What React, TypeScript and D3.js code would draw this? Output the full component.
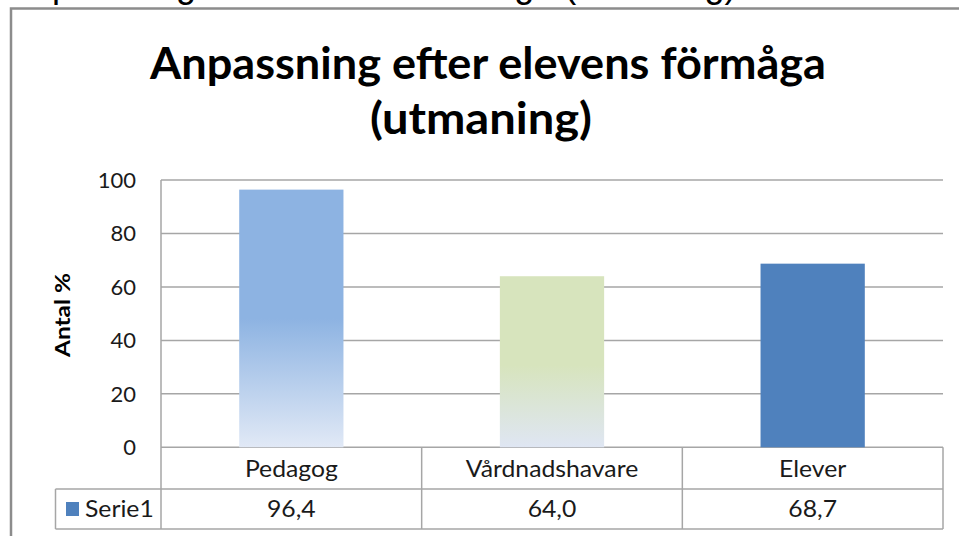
import React from "react";
import * as d3 from "d3";

const categories = ["Pedagog", "Vårdnadshavare", "Elever"];
const values = [96.4, 64.0, 68.7];
const valueLabels = ["96,4", "64,0", "68,7"];
const yTicks = [0, 20, 40, 60, 80, 100];
const seriesName = "Serie1";
const titleLines = ["Anpassning efter elevens förmåga", "(utmaning)"];
const caption = "Anpassning efter elevens förmåga (utmaning)";
const yAxisTitle = "Antal %";

const W = 959;
const H = 536;
const plotLeft = 161;
const plotRight = 943;
const plotTop = 180;
const plotBottom = 447.3;
const row1Bottom = 489;
const row2Bottom = 529;
const legendLeft = 55.5;
const font = "Lato, 'Open Sans', sans-serif";
const gridColor = "#a6a6a6";
const tableFont = 22.5;
const tableStretch = 1.1;

const fills = ["url(#gPed)", "url(#gVard)", "#4F81BD"];

export default function App() {
  const y = d3.scaleLinear().domain([0, 100]).range([plotBottom, plotTop]);
  const x = d3.scaleBand<string>().domain(categories).range([plotLeft, plotRight]).padding(0);
  const bw = x.bandwidth() * 0.4;
  const colEdges = [plotLeft, ...categories.map((c) => (x(c) as number) + x.bandwidth())];
  const cx = (c: string) => (x(c) as number) + x.bandwidth() / 2;

  return (
    <svg
      width={W}
      height={H}
      viewBox={`0 0 ${W} ${H}`}
      style={{ position: "absolute", left: 0, top: 0, background: "#fff" }}
    >
      <defs>
        <linearGradient id="gPed" x1="0" y1="0" x2="0" y2="1">
          <stop offset="0" stopColor="#8DB3E2" />
          <stop offset="0.5" stopColor="#8DB3E2" />
          <stop offset="1" stopColor="#E1E9F6" />
        </linearGradient>
        <linearGradient id="gVard" x1="0" y1="0" x2="0" y2="1">
          <stop offset="0" stopColor="#D7E4BD" />
          <stop offset="0.52" stopColor="#D7E4BD" />
          <stop offset="1" stopColor="#DFE6F3" />
        </linearGradient>
      </defs>
      <rect x={0} y={0} width={W} height={H} fill="#fff" />

      {/* cut-off caption at top */}
      <text x={8} y={-3.5} fontFamily="'Liberation Sans', Arial, sans-serif" fontSize={36} fill="#000">
        {caption}
      </text>

      {/* outer frame */}
      <path d={`M11,${H + 5} L11,8.5 L${W + 5},8.5`} fill="none" stroke="#8c8c8c" strokeWidth={2.5} />

      {/* title */}
      <text x={488} y={79} textAnchor="middle" fontFamily={font} fontWeight={700} fontSize={44} fill="#000"
        textLength={676} lengthAdjust="spacingAndGlyphs">
        {titleLines[0]}
      </text>
      <text x={481} y={134} textAnchor="middle" fontFamily={font} fontWeight={700} fontSize={44} fill="#000"
        textLength={222} lengthAdjust="spacingAndGlyphs">
        {titleLines[1]}
      </text>

      {/* gridlines */}
      {yTicks.map((t) => (
        <line key={t} x1={plotLeft} x2={plotRight} y1={y(t)} y2={y(t)} stroke={gridColor} strokeWidth={1.5} />
      ))}

      {/* y tick labels */}
      {yTicks.map((t) => (
        <text key={"l" + t} x={136} y={y(t)} dy="0.36em" textAnchor="end" fontFamily={font} fontSize={22} fill="#1a1a1a">
          {t}
        </text>
      ))}

      {/* y axis title */}
      <text
        transform={`translate(70,315) rotate(-90)`}
        textAnchor="middle"
        fontFamily={font}
        fontWeight={700}
        fontSize={20}
        fill="#000"
        textLength={84}
        lengthAdjust="spacingAndGlyphs"
      >
        {yAxisTitle}
      </text>

      {/* bars */}
      {categories.map((c, i) => (
        <rect
          key={c}
          x={cx(c) - bw / 2}
          y={y(values[i])}
          width={bw}
          height={y(0) - y(values[i])}
          fill={fills[i]}
        />
      ))}

      {/* data table lines */}
      <g stroke={gridColor} strokeWidth={1.5} fill="none">
        <line x1={plotLeft} x2={plotLeft} y1={plotTop} y2={row2Bottom} />
        {colEdges.slice(1).map((e, i) => (
          <line key={"v" + i} x1={e} x2={e} y1={plotBottom} y2={row2Bottom} />
        ))}
        <line x1={legendLeft} x2={legendLeft} y1={row1Bottom} y2={row2Bottom} />
        <line x1={legendLeft} x2={plotRight} y1={row1Bottom} y2={row1Bottom} />
        <line x1={legendLeft} x2={plotRight} y1={row2Bottom} y2={row2Bottom} />
      </g>

      {/* category labels */}
      {categories.map((c) => (
        <g key={"c" + c} transform={`translate(${cx(c)},477) scale(${tableStretch},1)`}>
          <text textAnchor="middle" fontFamily={font} fontSize={tableFont} fill="#1a1a1a">
            {c}
          </text>
        </g>
      ))}

      {/* values row */}
      {categories.map((c, i) => (
        <g key={"v" + c} transform={`translate(${cx(c)},517) scale(${tableStretch},1)`}>
          <text textAnchor="middle" fontFamily={font} fontSize={tableFont} fill="#1a1a1a">
            {valueLabels[i]}
          </text>
        </g>
      ))}

      {/* legend key */}
      <rect x={66} y={502} width={13} height={14} fill="#4F81BD" />
      <g transform={`translate(85,517) scale(${tableStretch},1)`}>
        <text fontFamily={font} fontSize={tableFont} fill="#1a1a1a">
          {seriesName}
        </text>
      </g>
    </svg>
  );
}
